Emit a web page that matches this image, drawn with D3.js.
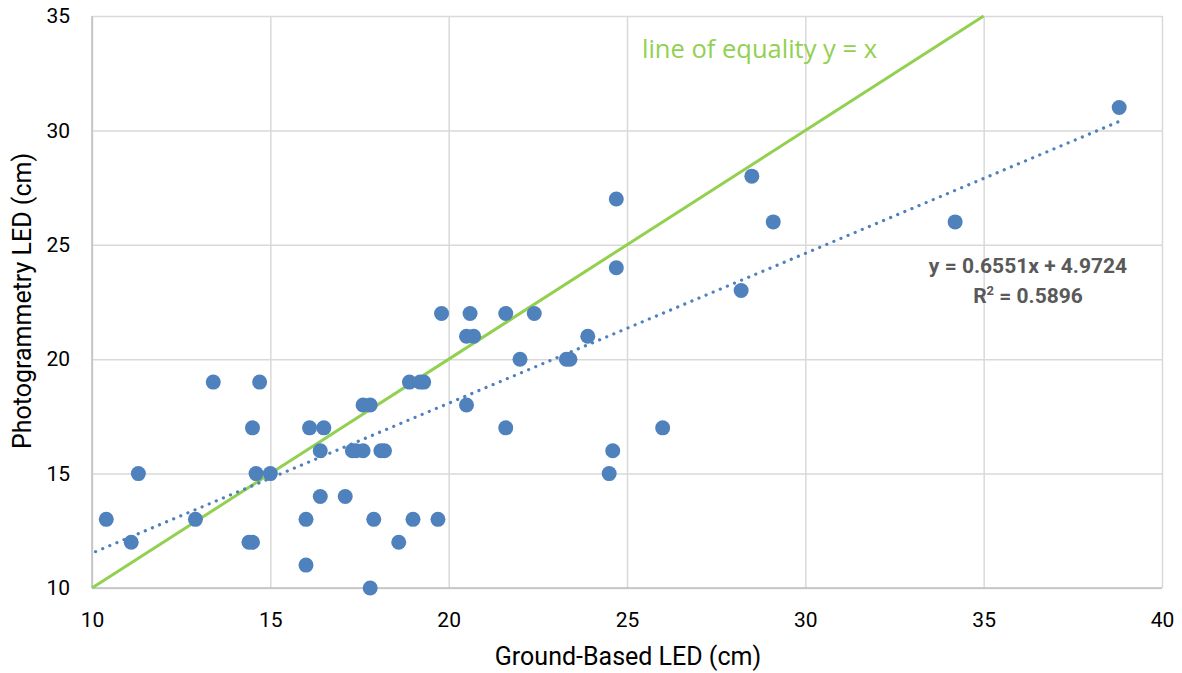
<!DOCTYPE html>
<html>
<head>
<meta charset="utf-8">
<script src="https://cdn.jsdelivr.net/npm/d3@7/dist/d3.min.js"></script>
<style>
  html, body { margin: 0; padding: 0; background: #fff; }
  svg { display: block; }
</style>
</head>
<body>
<svg id="chart" width="1182" height="673"></svg>
<script>
// Ground-based vs photogrammetry LED measurements (cm)
const groundLED = [
  10.4, 11.1, 11.3, 12.9, 13.4, 14.4, 14.5, 14.5, 14.6, 14.7,
  15.0, 16.0, 16.0, 16.1, 16.4, 16.4, 16.5, 17.1, 17.3, 17.4,
  17.6, 17.6, 17.8, 17.8, 17.9, 18.1, 18.2, 18.6, 18.9, 19.2,
  19.3, 19.0, 19.7, 19.8, 20.5, 20.7, 20.5, 20.6, 21.6, 21.6,
  22.0, 22.4, 23.3, 23.4, 23.9, 24.5, 24.6, 24.7, 24.7, 26.0,
  28.2, 28.5, 29.1, 34.2, 38.8
];
const photoLED = [
  13, 12, 15, 13, 19, 12, 12, 17, 15, 19,
  15, 13, 11, 17, 16, 14, 17, 14, 16, 16,
  16, 18, 18, 10, 13, 16, 16, 12, 19, 19,
  19, 13, 13, 22, 21, 21, 18, 22, 22, 17,
  20, 22, 20, 20, 21, 15, 16, 24, 27, 17,
  23, 28, 26, 26, 31
];
const xTicks = [10, 15, 20, 25, 30, 35, 40];
const yTicks = [10, 15, 20, 25, 30, 35];
const trendSlope = 0.6551;
const trendIntercept = 4.9724;
const rSquared = 0.5896;

const svg = d3.select("#chart");
const plot = { left: 92, right: 1162, top: 16, bottom: 588 };

const x = d3.scaleLinear().domain([10, 40]).range([plot.left, plot.right]);
const y = d3.scaleLinear().domain([10, 35]).range([plot.bottom, plot.top]);

const tickFont = "Roboto, 'Liberation Sans', Arial, sans-serif";

// gridlines
svg.append("g")
  .attr("transform", `translate(0,${plot.bottom})`)
  .call(d3.axisBottom(x).tickValues(xTicks).tickSize(-(plot.bottom - plot.top)).tickFormat(""))
  .call(g => g.select(".domain").remove())
  .call(g => g.selectAll("line").attr("stroke", "#d9d9d9").attr("stroke-width", 1.5));

svg.append("g")
  .attr("transform", `translate(${plot.left},0)`)
  .call(d3.axisLeft(y).tickValues(yTicks).tickSize(-(plot.right - plot.left)).tickFormat(""))
  .call(g => g.select(".domain").remove())
  .call(g => g.selectAll("line").attr("stroke", "#d9d9d9").attr("stroke-width", 1.5));

// axis lines
svg.append("line")
  .attr("x1", plot.left).attr("x2", plot.right)
  .attr("y1", plot.bottom).attr("y2", plot.bottom)
  .attr("stroke", "#bfbfbf").attr("stroke-width", 1.5);
svg.append("line")
  .attr("x1", plot.left).attr("x2", plot.left)
  .attr("y1", plot.top).attr("y2", plot.bottom)
  .attr("stroke", "#bfbfbf").attr("stroke-width", 1.5);

// tick labels
svg.append("g")
  .attr("transform", `translate(0,${plot.bottom})`)
  .call(d3.axisBottom(x).tickValues(xTicks).tickSize(0).tickPadding(24))
  .call(g => g.select(".domain").remove())
  .call(g => g.selectAll("text")
    .attr("font-family", tickFont).attr("font-size", 21).attr("fill", "#000"));

svg.append("g")
  .attr("transform", `translate(${plot.left},0)`)
  .call(d3.axisLeft(y).tickValues(yTicks).tickSize(0).tickPadding(22))
  .call(g => g.select(".domain").remove())
  .call(g => g.selectAll("text")
    .attr("font-family", tickFont).attr("font-size", 21).attr("fill", "#000"));

// axis titles
svg.append("text")
  .attr("x", 628).attr("y", 665)
  .attr("text-anchor", "middle")
  .attr("font-family", tickFont).attr("font-size", 25).attr("fill", "#000")
  .text("Ground-Based LED (cm)");

svg.append("text")
  .attr("transform", `translate(31,301) rotate(-90)`)
  .attr("text-anchor", "middle")
  .attr("font-family", tickFont).attr("font-size", 25).attr("fill", "#000")
  .text("Photogrammetry LED (cm)");

// line of equality y = x
svg.append("line")
  .attr("x1", x(10)).attr("y1", y(10))
  .attr("x2", x(35)).attr("y2", y(35))
  .attr("stroke", "#92d050").attr("stroke-width", 3);

// points
svg.append("g")
  .selectAll("circle")
  .data(groundLED.map((g, i) => [g, photoLED[i]]))
  .join("circle")
  .attr("cx", d => x(d[0]))
  .attr("cy", d => y(d[1]))
  .attr("r", 7.5)
  .attr("fill", "#4f81bd");

// linear trendline
const tx0 = 10.1, tx1 = d3.max(groundLED);
svg.append("line")
  .attr("x1", x(tx0)).attr("y1", y(trendSlope * tx0 + trendIntercept))
  .attr("x2", x(tx1)).attr("y2", y(trendSlope * tx1 + trendIntercept))
  .attr("stroke", "#4f81bd").attr("stroke-width", 3.2)
  .attr("stroke-linecap", "round")
  .attr("stroke-dasharray", "0.1 7.6");

// annotations
svg.append("text")
  .attr("x", 642).attr("y", 58)
  .attr("font-family", "'Open Sans', 'Noto Sans', sans-serif").attr("font-size", 25.5)
  .attr("fill", "#92d050")
  .text("line of equality y = x");

const eq = svg.append("text")
  .attr("text-anchor", "middle")
  .attr("font-family", "Roboto, 'Liberation Sans', sans-serif")
  .attr("font-size", 21).attr("font-weight", "bold").attr("fill", "#595959");
eq.append("tspan").attr("x", 1028).attr("y", 273)
  .text(`y = ${trendSlope}x + ${trendIntercept}`);
const l2 = eq.append("tspan").attr("x", 1028).attr("y", 303);
l2.append("tspan").text("R");
l2.append("tspan").attr("dy", -8).attr("font-size", 13).text("2");
l2.append("tspan").attr("dy", 8).text(` = ${rSquared}`);
</script>
</body>
</html>
